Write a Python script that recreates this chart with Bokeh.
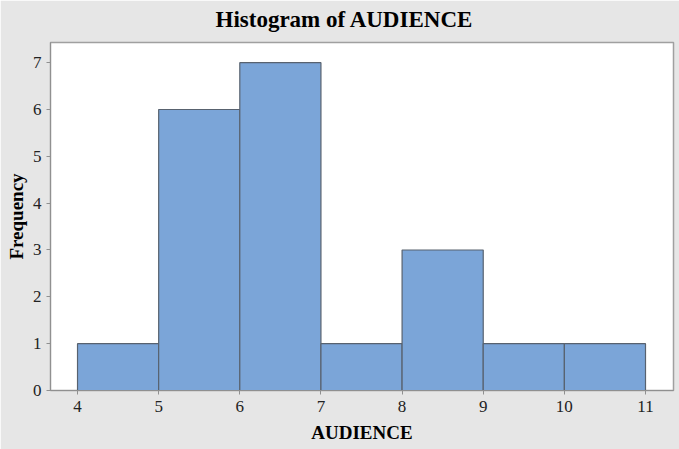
from bokeh.plotting import figure
from bokeh.models import Range1d, FixedTicker, Title
from bokeh.embed import file_html
from bokeh.resources import INLINE

# histogram bins of AUDIENCE
bin_left = [4, 5, 6, 7, 8, 9, 10]
bin_right = [5, 6, 7, 8, 9, 10, 11]
counts = [1, 6, 7, 1, 3, 1, 1]

x_ticks = [4, 5, 6, 7, 8, 9, 10, 11]
y_ticks = [0, 1, 2, 3, 4, 5, 6, 7]

bg = "#e6e6e6"
serif = "Liberation Serif"

p = figure(width=679, height=449, output_backend="svg", toolbar_location=None,
           x_range=Range1d(3.667, 11.345), y_range=Range1d(0, 7.43),
           min_border_left=50, min_border_right=6, min_border_top=42, min_border_bottom=59)

p.background_fill_color = "white"
p.border_fill_color = bg
p.outline_line_color = "#a0a0a0"
p.outline_line_width = 1.5
p.grid.visible = False

p.quad(left=bin_left, right=bin_right, bottom=0, top=counts,
       fill_color="#7ba5d8", line_color="#58626f", line_width=1.2)

# real title, with an empty spacer title between it and the frame
p.title = Title(text="Histogram of AUDIENCE", align="left", offset=165,
                vertical_align="bottom", standoff=2,
                text_font=serif, text_font_size="23px", text_font_style="bold",
                text_color="black")
p.add_layout(Title(text=" ", text_font_size="1px", standoff=7), "above")

# axes
for ax in (p.xaxis[0], p.yaxis[0]):
    ax.axis_line_color = "#909090"
    ax.major_tick_line_color = "#909090"
    ax.major_tick_out = 4
    ax.major_tick_in = 0
    ax.minor_tick_line_color = None
    ax.major_label_text_font = serif
    ax.major_label_text_font_size = "17px"
    ax.major_label_text_color = "#222222"
    ax.major_label_standoff = 5
    ax.axis_label_text_font = serif
    ax.axis_label_text_font_size = "19px"
    ax.axis_label_text_font_style = "bold"
    ax.axis_label_text_color = "black"

p.xaxis.ticker = FixedTicker(ticks=x_ticks)
p.yaxis.ticker = FixedTicker(ticks=y_ticks)
p.xaxis.axis_label = "AUDIENCE"
p.yaxis.axis_label = "Frequency"
p.xaxis.major_label_standoff = 6
p.xaxis.axis_label_standoff = 7
p.yaxis.axis_label_standoff = 3

open("out.html", "w").write(file_html(p, INLINE))
